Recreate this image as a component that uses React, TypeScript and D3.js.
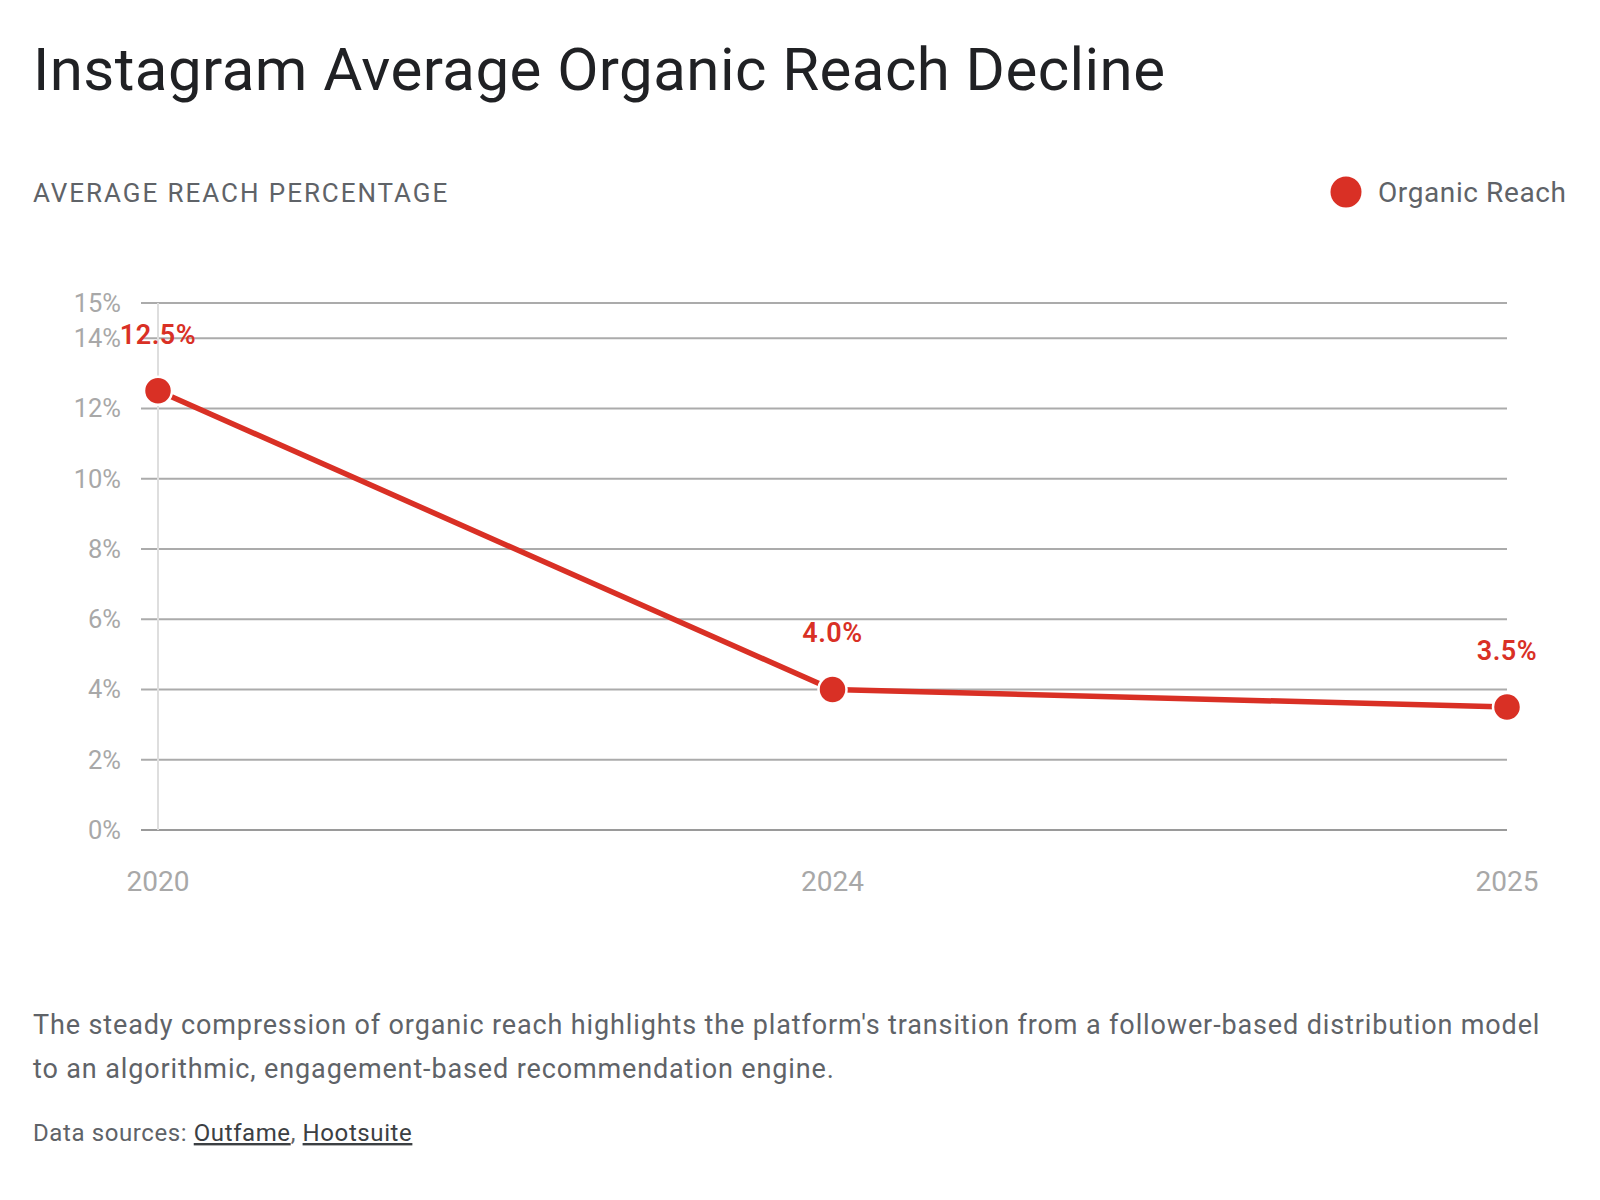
import React, { useEffect } from "react";
import * as d3 from "d3";

const years = ["2020", "2024", "2025"];
const reach = [12.5, 4.0, 3.5];
const yTicks = [0, 2, 4, 6, 8, 10, 12, 14, 15];
const seriesName = "Organic Reach";

const RED = "#d93025";
const FONT = "Roboto, 'Noto Sans', sans-serif";

export default function App() {
  useEffect(() => {
    document.body.style.margin = "0";
  }, []);

  const width = 1600;
  const height = 1200;

  const x = d3.scalePoint<string>().domain(years).range([158, 1507]);
  const y = d3.scaleLinear().domain([0, 15]).range([830, 303]);

  const pts = years.map((yr, i) => ({ yr, v: reach[i] }));
  const line = d3
    .line<{ yr: string; v: number }>()
    .x((d) => x(d.yr) as number)
    .y((d) => y(d.v));

  return (
    <svg width={width} height={height} style={{ display: "block", background: "#fff" }}>
      {/* title + header */}
      <text x={33} y={90} fontFamily={FONT} fontSize={60} letterSpacing={0.45} fill="#202124">
        Instagram Average Organic Reach Decline
      </text>
      <text x={33} y={202} fontFamily={FONT} fontSize={26} fill="#5f6368" letterSpacing={1.95}>
        AVERAGE REACH PERCENTAGE
      </text>
      <g>
        <circle cx={1346} cy={192} r={15.5} fill={RED} />
        <text x={1378} y={202} fontFamily={FONT} fontSize={28} letterSpacing={0.6} fill="#5f6368">
          {seriesName}
        </text>
      </g>

      {/* grid + y axis */}
      <g>
        {yTicks.map((t) => (
          <g key={t}>
            <line
              x1={141}
              x2={x.range()[1]}
              y1={y(t)}
              y2={y(t)}
              stroke={t === 0 ? "#9a9a9a" : "#ababab"}
              strokeWidth={2}
            />
            <text
              x={121}
              y={y(t)}
              dy="0.35em"
              textAnchor="end"
              fontFamily={FONT}
              fontSize={25.5}
              fill="#a8a8a8"
            >
              {t}%
            </text>
          </g>
        ))}
        <line x1={x("2020")} x2={x("2020")} y1={y(15)} y2={y(0)} stroke="#dedede" strokeWidth={2} />
      </g>

      {/* x axis */}
      {years.map((yr) => (
        <text
          key={yr}
          x={x(yr)}
          y={891}
          textAnchor="middle"
          fontFamily={FONT}
          fontSize={28}
          fill="#a8a8a8"
        >
          {yr}
        </text>
      ))}

      {/* series */}
      <path d={line(pts) || ""} fill="none" stroke={RED} strokeWidth={5.5} />
      {pts.map((d) => (
        <g key={d.yr}>
          <circle cx={x(d.yr)} cy={y(d.v)} r={14} fill={RED} stroke="#fff" strokeWidth={2.5} />
          <text
            x={x(d.yr)}
            y={y(d.v) - 47}
            textAnchor="middle"
            fontFamily={FONT}
            fontSize={27}
            fontWeight={600}
            letterSpacing={0.5}
            fill={RED}
          >
            {d3.format(".1f")(d.v)}%
          </text>
        </g>
      ))}

      {/* footer */}
      <text fontFamily={FONT} fontSize={27} letterSpacing={0.87} fill="#5f6368">
        <tspan x={33} y={1034}>
          The steady compression of organic reach highlights the platform's transition from a follower-based distribution model
        </tspan>
        <tspan x={33} y={1078}>
          to an algorithmic, engagement-based recommendation engine.
        </tspan>
      </text>
      <text x={33} y={1141} fontFamily={FONT} fontSize={24} letterSpacing={0.6} fill="#5f6368">
        Data sources:{" "}
        <tspan fill="#3c4043" textDecoration="underline">Outfame</tspan>,{" "}
        <tspan fill="#3c4043" textDecoration="underline">Hootsuite</tspan>
      </text>
    </svg>
  );
}
